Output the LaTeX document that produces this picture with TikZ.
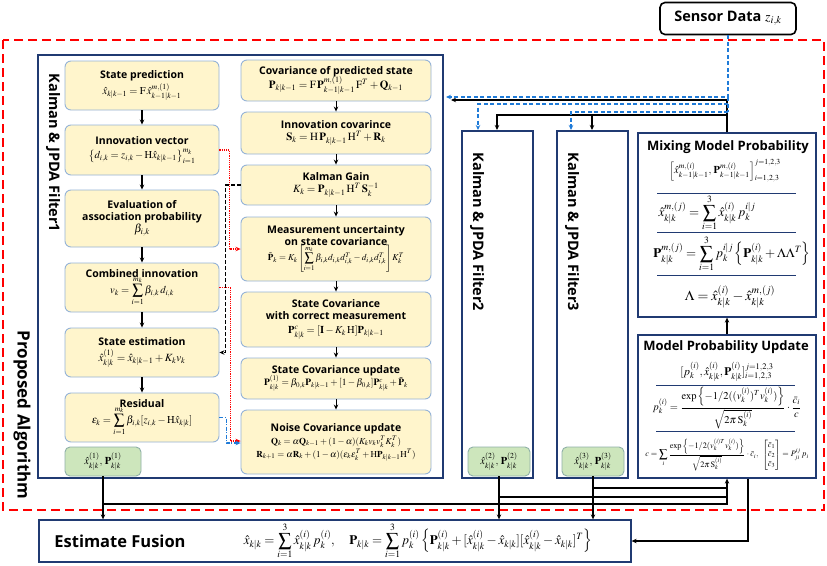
\documentclass[tikz,border=0pt]{standalone}
\usepackage{amsmath}
\usepackage{mathptmx}
\usepackage[no-math]{fontspec}
\setsansfont{Open Sans}
\usetikzlibrary{arrows.meta,calc}
\definecolor{yfill}{HTML}{FFF5CC}
\definecolor{yborder}{HTML}{95B3D7}
\definecolor{gfill}{HTML}{CDE6BC}
\definecolor{gborder}{HTML}{8FB0A8}
\definecolor{navy}{HTML}{203A72}
\definecolor{redc}{HTML}{FF0000}
\definecolor{bluec}{HTML}{1F7BD8}
\newcommand{\boxtitle}[1]{{\sffamily\bfseries\fontsize{10.5}{12.5}\selectfont #1}}
\begin{document}
\begin{tikzpicture}[x=1pt,y=-1pt,
  ybox/.style={draw=yborder, fill=yfill, rounded corners=6pt, line width=0.9pt, align=center, inner sep=1pt, font=\fontsize{10.5}{13}\selectfont},
  gbox/.style={draw=gborder, fill=gfill, rounded corners=5pt, line width=0.9pt, inner sep=0pt, font=\fontsize{10.5}{12}\selectfont},
  nbox/.style={draw=navy, line width=1.3pt, fill=white, inner sep=0pt},
  arrowhd/.style={-{Stealth[length=5pt,width=4.5pt]}},
  chain/.style={arrowhd, line width=1.3pt},
  thk/.style={line width=2.2pt},
  reddot/.style={color=redc, line width=1.2pt, dash pattern=on 1.2pt off 1pt, -{Stealth[length=5pt,width=4.5pt]}},
  blkdash/.style={line width=1.2pt, dash pattern=on 4pt off 2pt, arrowhd},
  bdd/.style={color=bluec, line width=1.2pt, dash pattern=on 4pt off 1.5pt on 1pt off 1.5pt, -{Stealth[length=5pt,width=4.5pt]}},
  bluedash/.style={color=bluec, line width=1.3pt, dash pattern=on 4pt off 2.5pt},
  bluetip/.style={-{Stealth[length=5pt,width=4.5pt]}},
  biglabel/.style={font=\sffamily\bfseries\fontsize{14.5}{16}\selectfont, rotate=-90, inner sep=0pt},
  rulel/.style={draw=navy, line width=0.9pt}
]
\useasboundingbox (0,0) rectangle (827,565);

% red dashed frame
\draw[redc, line width=2.2pt, dash pattern=on 9pt off 5pt] (3,40) rectangle (824,510);
\node[biglabel, font=\sffamily\bfseries\fontsize{17}{19}\selectfont] (prop) at (22,415) {Proposed Algorithm};

% sensor
\node[draw, line width=1.6pt, rounded corners=5pt, fill=white, minimum width=136, minimum height=32, inner sep=0pt, font=\sffamily\bfseries\fontsize{14.5}{16}\selectfont] (sensor) at (728,18.5) {Sensor Data \fontsize{14}{15}\selectfont$z_{i,k}$};

% outer boxes
\node[nbox, minimum width=405, minimum height=423] (f1) at (240.5,266.5) {};
\node[nbox, minimum width=71, minimum height=347] (f2) at (497.5,304.5) {};
\node[nbox, minimum width=71, minimum height=347] (f3) at (592.5,304.5) {};
\node[nbox, minimum width=178, minimum height=184] (mix) at (727,225) {};
\node[nbox, minimum width=178, minimum height=143] (mpu) at (727,406.5) {};
\node[nbox, minimum width=592, minimum height=42] (fusion) at (335,541) {};

\node[biglabel] (f1lab) at (53,153) {Kalman \& JPDA Filter1};
\node[biglabel] (f2lab) at (477,232) {Kalman \& JPDA Filter2};
\node[biglabel] (f3lab) at (572,232) {Kalman \& JPDA Filter3};

% left column
\node[ybox, minimum width=154, minimum height=49] (l1) at (142,85.5) {\boxtitle{State prediction}\\[1pt] $\hat{x}_{k|k-1} = \mathrm{F}\,\hat{x}^{m,(1)}_{k-1|k-1}$};
\node[ybox, minimum width=154, minimum height=50] (l2) at (142,150) {\boxtitle{Innovation vector}\\[1pt] $\left\{ d_{i,k} = z_{i,k} - \mathrm{H}\hat{x}_{k|k-1} \right\}_{i=1}^{m_k}$};
\node[ybox, minimum width=154, minimum height=57] (l3) at (142,218.5) {\boxtitle{Evaluation of}\\[-1pt] \boxtitle{association probability}\\[-1pt] \fontsize{11.5}{12}\selectfont$\beta_{i,k}$};
\node[ybox, minimum width=154, minimum height=49] (l4) at (142,287.5) {\boxtitle{Combined innovation}\\[-2pt] $v_k = \displaystyle\sum_{i=1}^{m_k} \beta_{i,k}\, d_{i,k}$};
\node[ybox, minimum width=154, minimum height=49] (l5) at (142,352.5) {\boxtitle{State estimation}\\[3pt] \fontsize{11}{13}\selectfont$\hat{x}^{(1)}_{k|k} = \hat{x}_{k|k-1} + K_k v_k$};
\node[ybox, minimum width=154, minimum height=49] (l6) at (142,417.5) {\boxtitle{Residual}\\[-2pt] $\varepsilon_k = \displaystyle\sum_{i=1}^{m_k} \beta_{i,k}[z_{i,k} - \mathrm{H}\hat{x}_{k|k}]$};
\node[gbox, minimum width=76, minimum height=29] (g1) at (103,461.5) {$\hat{x}^{(1)}_{k|k},\,\mathbf{P}^{(1)}_{k|k}$};

% right column
\node[ybox, minimum width=190, minimum height=41] (r1) at (336,80.5) {\boxtitle{Covariance of predicted state}\\[-1pt] \fontsize{11}{12}\selectfont$\mathbf{P}_{k|k-1} = \mathrm{F}\,\mathbf{P}^{m,(1)}_{k-1|k-1}\,\mathrm{F}^T + \mathbf{Q}_{k-1}$};
\node[ybox, minimum width=190, minimum height=42] (r2) at (336,133) {\boxtitle{Innovation covarince}\\[-1pt] \fontsize{11}{12}\selectfont$\mathbf{S}_k = \mathrm{H}\,\mathbf{P}_{k|k-1}\,\mathrm{H}^T + \mathbf{R}_k$};
\node[ybox, minimum width=190, minimum height=40] (r3) at (336,185) {\boxtitle{Kalman Gain}\\[-1pt] \fontsize{11}{12}\selectfont$K_k = \mathbf{P}_{k|k-1}\,\mathrm{H}^T\,\mathbf{S}_k^{-1}$};
\node[ybox, minimum width=190, minimum height=64] (r4) at (336,249) {\boxtitle{Measurement uncertainty}\\[-1pt] \boxtitle{on state covariance}\\[-2pt] \fontsize{9}{10}\selectfont$\tilde{\mathbf{P}}_k = K_k\left[\displaystyle\sum_{i=1}^{m_k}\beta_{i,k}d_{i,k}d_{i,k}^T - d_{i,k}d_{i,k}^T\right]K_k^T$};
\node[ybox, minimum width=190, minimum height=55] (r5) at (336,319.5) {\boxtitle{State Covariance}\\[-1pt] \boxtitle{with correct measurement}\\[1pt] $\mathbf{P}^{c}_{k|k} = [\mathbf{I} - K_k\,\mathrm{H}]\mathbf{P}_{k|k-1}$};
\node[ybox, minimum width=190, minimum height=41] (r6) at (336,378.5) {\boxtitle{State Covariance update}\\[-1pt] \fontsize{9.5}{11}\selectfont$\mathbf{P}^{(1)}_{k|k} = \beta_{0,k}\mathbf{P}_{k|k-1} + [1-\beta_{0,k}]\mathbf{P}^c_{k|k} + \tilde{\mathbf{P}}_k$};
\node[ybox, minimum width=190, minimum height=64] (r7) at (336,442) {\boxtitle{Noise Covariance update}\\[0pt] \fontsize{9}{12}\selectfont$\mathbf{Q}_k = \alpha\mathbf{Q}_{k-1} + (1-\alpha)(K_k v_k v_k^T K_k^T)$\\ \fontsize{9}{12}\selectfont$\mathbf{R}_{k+1} = \alpha\mathbf{R}_k + (1-\alpha)(\varepsilon_k\varepsilon_k^T + \mathrm{H}\mathbf{P}_{k|k-1}\mathrm{H}^T)$};

% green boxes in filter 2/3
\node[gbox, minimum width=62, minimum height=29] (g2) at (499,461.5) {$\hat{x}^{(2)}_{k|k},\,\mathbf{P}^{(2)}_{k|k}$};
\node[gbox, minimum width=62, minimum height=29] (g3) at (593,461.5) {$\hat{x}^{(3)}_{k|k},\,\mathbf{P}^{(3)}_{k|k}$};

% Mixing model probability content
\node[font=\sffamily\bfseries\fontsize{13}{15}\selectfont, inner sep=0pt] (mixt) at (728,147) {Mixing Model Probability};
\node[font=\fontsize{10.5}{11}\selectfont, inner sep=0pt] (mixf1) at (725,171) {$\left[\hat{x}^{m,(i)}_{k-1|k-1},\,\mathbf{P}^{m,(i)}_{k-1|k-1}\right]^{j=1,2,3}_{i=1,2,3}$};
\draw[rulel] (657,193) -- (796,193);
\node[font=\fontsize{13}{14}\selectfont, inner sep=0pt] (mixf2) at (707,213) {$\hat{x}^{m,(j)}_{k|k} = \displaystyle\sum_{i=1}^{3} \hat{x}^{(i)}_{k|k}\,p_k^{i|j}$};
\draw[rulel] (657,232) -- (796,232);
\node[font=\fontsize{13}{14}\selectfont, inner sep=0pt] (mixf3) at (732,254) {$\mathbf{P}^{m,(j)}_{k|k} = \displaystyle\sum_{i=1}^{3} p_k^{i|j}\left\{\mathbf{P}^{(i)}_{k|k} + \Lambda\Lambda^T\right\}$};
\draw[rulel] (657,275) -- (796,275);
\node[font=\fontsize{14}{15}\selectfont, inner sep=0pt] (mixf4) at (730,297) {$\Lambda = \hat{x}^{(i)}_{k|k} - \hat{x}^{m,(j)}_{k|k}$};

% Model probability update content
\node[font=\sffamily\bfseries\fontsize{13}{15}\selectfont, inner sep=0pt] (mput) at (726,347) {Model Probability Update};
\node[font=\fontsize{11.5}{12}\selectfont, inner sep=0pt] (mpuf1) at (727,372) {$[p_k^{(i)},\hat{x}^{(i)}_{k|k},\mathbf{P}^{(i)}_{k|k}]^{j=1,2,3}_{i=1,2,3}$};
\draw[rulel] (656,385) -- (795,385);
\node[font=\fontsize{10.5}{11}\selectfont, inner sep=0pt] (mpuf2) at (727,408) {$p_k^{(i)} = \dfrac{\exp\left\{-1/2((v_k^{(i)})^T v_k^{(i)})\right\}}{\sqrt{2\pi\,\mathrm{S}_k^{(i)}}}\cdot\dfrac{\bar{c}_i}{c}$};
\draw[rulel] (656,431) -- (795,431);
\node[font=\fontsize{8.3}{9.5}\selectfont, inner sep=0pt] (mpuf3) at (727,455) {$c = \displaystyle\sum_{i}\frac{\exp\left\{-1/2(v_k^{(i)T} v_k^{(i)})\right\}}{\sqrt{2\pi\,\mathrm{S}_k^{(i)}}}\cdot\bar{c}_i,\ \begin{bmatrix}\bar{c}_1\\ \bar{c}_2\\ \bar{c}_3\end{bmatrix} = P^{ij}_{ji}\,p_i$};

% Estimate fusion content
\node[font=\sffamily\bfseries\fontsize{16.5}{18}\selectfont, inner sep=0pt] (fust) at (120,541) {Estimate Fusion};
\node[font=\fontsize{13}{14}\selectfont, inner sep=0pt] (fusf) at (418,541) {$\hat{x}_{k|k} = \displaystyle\sum_{i=1}^{3}\hat{x}^{(i)}_{k|k}\,p_k^{(i)},\quad \mathbf{P}_{k|k} = \sum_{i=1}^{3} p_k^{(i)}\left\{\mathbf{P}^{(i)}_{k|k} + [\hat{x}^{(i)}_{k|k}-\hat{x}_{k|k}][\hat{x}^{(i)}_{k|k}-\hat{x}_{k|k}]^T\right\}$};

% left chain
\draw[chain] (l1) -- (l2);
\draw[chain] (l2) -- (l3);
\draw[chain] (l3) -- (l4);
\draw[chain] (l4) -- (l5);
\draw[chain] (l5) -- (l6);
% right chain
\draw[chain, line width=1pt] (r1) -- (r2);
\draw[chain, line width=1pt] (r2) -- (r3);
\draw[chain, line width=1pt] (r3) -- (r4);
\draw[chain, line width=1pt] (r4) -- (r5);
\draw[chain, line width=1pt] (r5) -- (r6);
\draw[chain, line width=1pt] (r6) -- (r7);

% cross connectors
\draw[reddot] (l2.east) -- ++(10,0) |- (r4.west);
\draw[blkdash] (r3.west) -- ++(-15,0) |- (l5.east);
\draw[reddot] (l4.east) -- ++(11,0) |- ($(r7.west)+(0,-1)$);
\draw[bdd] (l6.east) -- ++(7,0) |- ($(r7.west)+(0,1)$);

% sensor connectors
\coordinate (f1inB) at (446,97);
\coordinate (f1inK) at (451,100);
\coordinate (f2inB) at (478,130);
\coordinate (f2inK) at (497,130);
\coordinate (f3inB) at (571,130);
\coordinate (f3inK) at (592,130);
\draw[thk, arrowhd] (mix.north) |- (f1inK);
\draw[thk, arrowhd] (mix.north |- 0,115) -| (f2inK);
\draw[thk, arrowhd] (mix.north |- 0,115) -| (f3inK);
\draw[bluedash, bluetip] (sensor.south) |- (f1inB);
\draw[bluedash, bluetip] (sensor.south |- 0,104) -| (f2inB);
\draw[bluedash, bluetip] (sensor.south |- 0,112) -| (f3inB);
\draw[bluedash] (sensor.south |- 0,97) -- (sensor.south |- 0,112);

% mixing <- update
\draw[thk, arrowhd] (mpu.north) -- (mix.south);

% bottom connectors
\draw[thk, arrowhd] (g1.south) -- (g1.south |- fusion.north);
\draw[thk, arrowhd] (g1.south |- 0,504) -| (mpu.south);
\draw[thk, arrowhd] (g2.south) -- (g2.south |- fusion.north);
\draw[thk] (g2.south |- 0,497) -- (mpu.south |- 0,497);
\draw[thk, arrowhd] (g3.south) -- (g3.south |- fusion.north);
\draw[thk] (g3.south |- 0,488) -- (mpu.south |- 0,488);
\draw[thk, arrowhd] (mpu.south -| 748,0) |- (fusion.east);
\end{tikzpicture}
\end{document}
